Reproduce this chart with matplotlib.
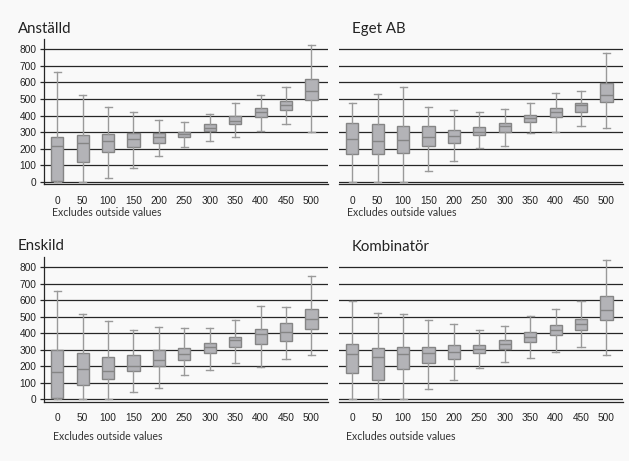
import matplotlib
import matplotlib.pyplot as plt

matplotlib.use("Agg")

# bin labels shared by all panels
bins = ["0", "50", "100", "150", "200", "250", "300", "350", "400", "450", "500"]

# Anställd
anst_low = [0, 0, 22, 82, 157, 213, 245, 271, 310, 348, 300]
anst_q1 = [5, 123, 183, 211, 237, 272, 310, 348, 392, 434, 497]
anst_med = [217, 233, 250, 258, 273, 290, 328, 370, 420, 464, 551]
anst_q3 = [273, 283, 290, 298, 298, 303, 348, 398, 444, 486, 621]
anst_high = [665, 527, 450, 424, 374, 364, 410, 474, 527, 575, 826]

# Eget AB
eget_low = [0, 0, 0, 68, 125, 203, 219, 293, 302, 336, 326]
eget_q1 = [167, 167, 177, 217, 237, 283, 303, 362, 392, 422, 484]
eget_med = [257, 249, 253, 269, 277, 303, 338, 386, 424, 464, 527]
eget_q3 = [358, 348, 338, 340, 316, 334, 358, 406, 448, 478, 595]
eget_high = [478, 530, 575, 454, 434, 420, 438, 478, 539, 551, 780]

# Enskild
ensk_low = [0, 0, 0, 41, 67, 146, 174, 217, 194, 245, 267]
ensk_q1 = [4, 85, 122, 170, 202, 237, 277, 316, 336, 352, 423]
ensk_med = [162, 180, 172, 200, 237, 275, 314, 358, 393, 409, 488]
ensk_q3 = [296, 281, 257, 265, 296, 312, 338, 379, 427, 464, 547]
ensk_high = [658, 514, 472, 419, 439, 433, 433, 482, 567, 557, 749]

# Kombinatör
komb_low = [0, 0, 0, 59, 113, 190, 225, 251, 286, 316, 269]
komb_q1 = [158, 113, 182, 217, 243, 279, 306, 348, 387, 417, 482]
komb_med = [271, 257, 271, 277, 283, 306, 334, 375, 419, 458, 539]
komb_q3 = [332, 310, 316, 318, 326, 330, 360, 409, 450, 488, 624]
komb_high = [597, 524, 516, 482, 458, 421, 441, 506, 549, 597, 842]

W, H = 629, 461
fig = plt.figure(figsize=(W / 100, H / 100), dpi=100)
fig.patch.set_facecolor("#f9f9f9")

TEXT_FONT = ["Lato", "DejaVu Sans"]
TICK_FONT = "Liberation Sans"


def px_axes(left, top, right, bottom):
    return fig.add_axes([left / W, 1 - bottom / H, (right - left) / W, (bottom - top) / H])


def draw_panel(ax, low, q1, med, q3, high, show_y):
    stats = []
    for i in range(len(bins)):
        stats.append({"whislo": low[i], "q1": q1[i], "med": med[i],
                      "q3": q3[i], "whishi": high[i], "fliers": []})
    ax.bxp(stats, positions=range(len(bins)), widths=0.48, capwidths=0.28,
           patch_artist=True, showfliers=False,
           boxprops=dict(facecolor="#b3b3b7", edgecolor="#858585", linewidth=1.0),
           medianprops=dict(color="#858585", linewidth=1.0),
           whiskerprops=dict(color="#9a9a9a", linewidth=1.0),
           capprops=dict(color="#9a9a9a", linewidth=1.0))
    for v in range(0, 900, 100):
        ax.axhline(v, color="#262626", linewidth=0.9, zorder=0)
    ax.set_xlim(-0.52, 10.65)
    ax.set_ylim(-15, 862)
    ax.set_facecolor("none")
    ax.set_xticks(range(len(bins)))
    ax.set_xticklabels(bins, fontsize=7.3, family=TICK_FONT, color="#222222")
    ax.tick_params(axis="x", length=0, pad=8)
    for s in ["top", "right"]:
        ax.spines[s].set_visible(False)
    ax.spines["bottom"].set_color("#262626")
    ax.spines["bottom"].set_linewidth(0.9)
    if show_y:
        ax.set_yticks(range(0, 900, 100))
        ax.set_yticklabels([str(v) for v in range(0, 900, 100)],
                           fontsize=7.3, family=TICK_FONT, color="#222222")
        ax.tick_params(axis="y", length=3, width=0.9, pad=2.5, color="#262626")
        ax.spines["left"].set_color("#262626")
        ax.spines["left"].set_linewidth(0.9)
    else:
        ax.set_yticks([])
        ax.spines["left"].set_visible(False)


ax1 = px_axes(44, 39, 328, 184.5)
ax2 = px_axes(339, 39, 623, 184.5)
ax3 = px_axes(44, 257, 328, 401.5)
ax4 = px_axes(339, 257, 623, 401.5)

draw_panel(ax1, anst_low, anst_q1, anst_med, anst_q3, anst_high, True)
draw_panel(ax2, eget_low, eget_q1, eget_med, eget_q3, eget_high, False)
draw_panel(ax3, ensk_low, ensk_q1, ensk_med, ensk_q3, ensk_high, True)
draw_panel(ax4, komb_low, komb_q1, komb_med, komb_q3, komb_high, False)

titles = [("Anställd", 18, 33), ("Eget AB", 352, 33),
          ("Enskild", 18, 250), ("Kombinatör", 352, 251)]
for txt, x, y in titles:
    fig.text(x / W, 1 - y / H, txt, fontsize=10.8, family=TEXT_FONT,
             color="#222222", va="baseline", ha="left")

notes = [(52, 216), (347, 216), (53, 440), (346, 440)]
for x, y in notes:
    fig.text(x / W, 1 - y / H, "Excludes outside values", fontsize=7.6,
             family=TEXT_FONT, color="#333333", va="baseline", ha="left")

fig.savefig("out.png", dpi=100, facecolor=fig.get_facecolor())
